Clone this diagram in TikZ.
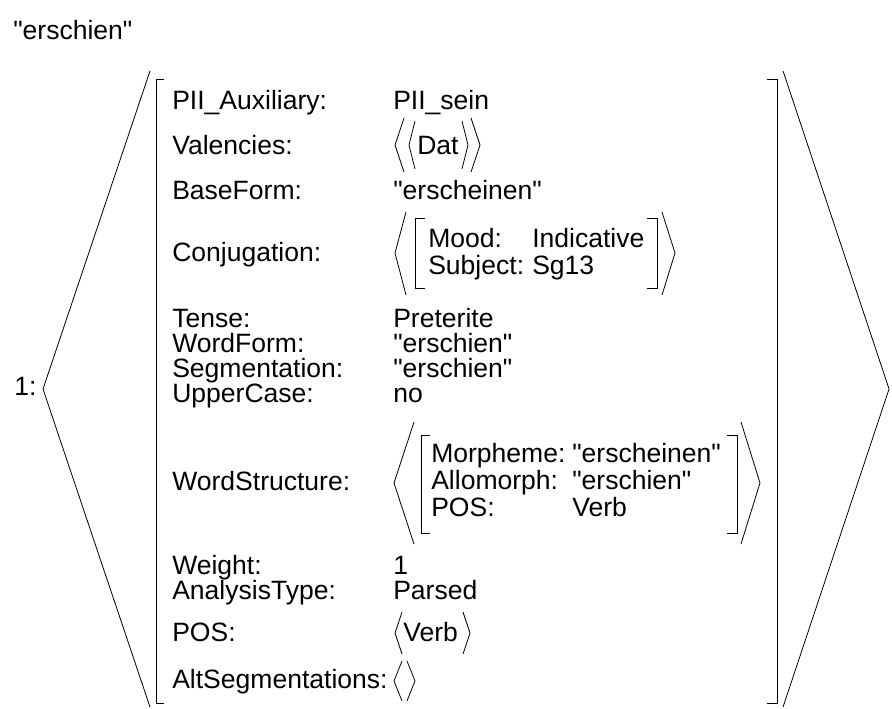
\documentclass[tikz,border=0pt]{standalone}
\usepackage{fontspec}
\setmainfont{Liberation Sans}
\usepackage{tikz}
\tikzstyle{entry} = [anchor=base west, inner sep=0pt, font=\fontsize{19.9}{24}\selectfont]
\tikzstyle{brack} = [line width=0.6pt, draw=black]

\begin{document}
\begin{tikzpicture}[x=0.75pt,y=-0.75pt]
\useasboundingbox (0,0) rectangle (892,708);
\node (title) [entry] at (13,39) {\textquotedbl erschien\textquotedbl};
\node (one) [entry] at (14,395) {1:};
%-----------------------------------------------
% outer frame
\draw [brack] (150,71) -- (43,389) -- (150,707);
\draw [brack] (164,79) -- (156,79) -- (156,703) -- (164,703);
\draw [brack] (767,79) -- (777,79) -- (777,703) -- (767,703);
\draw [brack] (783,71) -- (889,389) -- (783,707);
%-----------------------------------------------
\node (kAux) [entry] at (172,109) {PII\_Auxiliary:};
\node (vAux) [entry] at (393,109) {PII\_sein};
\node (kVal) [entry] at (172,154) {Valencies:};
\draw [brack] (404,118) -- (395,145) -- (404,172);
\draw [brack] (415,121) -- (409,145) -- (415,169);
\node (vVal) [entry] at (417,154) {Dat};
\draw [brack] (462,121) -- (468,145) -- (462,169);
\draw [brack] (471,118) -- (480,145) -- (471,172);
\node (kBase) [entry] at (172,199) {BaseForm:};
\node (vBase) [entry] at (393,199) {\textquotedbl erscheinen\textquotedbl};
%-----------------------------------------------
\node (kConj) [entry] at (172,261) {Conjugation:};
\draw [brack] (406,212) -- (395,253) -- (406,295);
\draw [brack] (425,218) -- (415,218) -- (415,288) -- (425,288);
\node (kMood) [entry] at (428,247) {Mood:};
\node (vMood) [entry] at (532,247) {Indicative};
\node (kSubj) [entry] at (428,274) {Subject:};
\node (vSubj) [entry] at (532,274) {Sg13};
\draw [brack] (647,218) -- (657,218) -- (657,288) -- (647,288);
\draw [brack] (662,212) -- (675,253) -- (662,295);
%-----------------------------------------------
\node (kTense) [entry] at (172,327) {Tense:};
\node (vTense) [entry] at (393,327) {Preterite};
\node (kForm) [entry] at (172,352) {WordForm:};
\node (vForm) [entry] at (393,352) {\textquotedbl erschien\textquotedbl};
\node (kSeg) [entry] at (172,377) {Segmentation:};
\node (vSeg) [entry] at (393,377) {\textquotedbl erschien\textquotedbl};
\node (kUpper) [entry] at (172,402) {UpperCase:};
\node (vUpper) [entry] at (393,402) {no};
%-----------------------------------------------
\node (kStruct) [entry] at (172,490) {WordStructure:};
\draw [brack] (414,422) -- (394,483) -- (414,544);
\draw [brack] (430,435) -- (421,435) -- (421,533) -- (430,533);
\node (kMorph) [entry] at (431,462) {Morpheme:};
\node (vMorph) [entry] at (572,462) {\textquotedbl erscheinen\textquotedbl};
\node (kAllo) [entry] at (431,489) {Allomorph:};
\node (vAllo) [entry] at (572,489) {\textquotedbl erschien\textquotedbl};
\node (kPosIn) [entry] at (431,516) {POS:};
\node (vPosIn) [entry] at (572,516) {Verb};
\draw [brack] (727,435) -- (737,435) -- (737,533) -- (727,533);
\draw [brack] (741,422) -- (760,483) -- (741,544);
%-----------------------------------------------
\node (kWeight) [entry] at (172,574) {Weight:};
\node (vWeight) [entry] at (393,574) {1};
\node (kType) [entry] at (172,599) {AnalysisType:};
\node (vType) [entry] at (393,599) {Parsed};
\node (kPos) [entry] at (172,641) {POS:};
\draw [brack] (402,612) -- (395,633) -- (402,654);
\node (vPos) [entry] at (403,641) {Verb};
\draw [brack] (463,612) -- (470,633) -- (463,654);
\node (kAlt) [entry] at (172,688) {AltSegmentations:};
\draw [brack] (402,661) -- (394,681) -- (402,701);
\draw [brack] (407,661) -- (415,681) -- (407,701);
\end{tikzpicture}
\end{document}
